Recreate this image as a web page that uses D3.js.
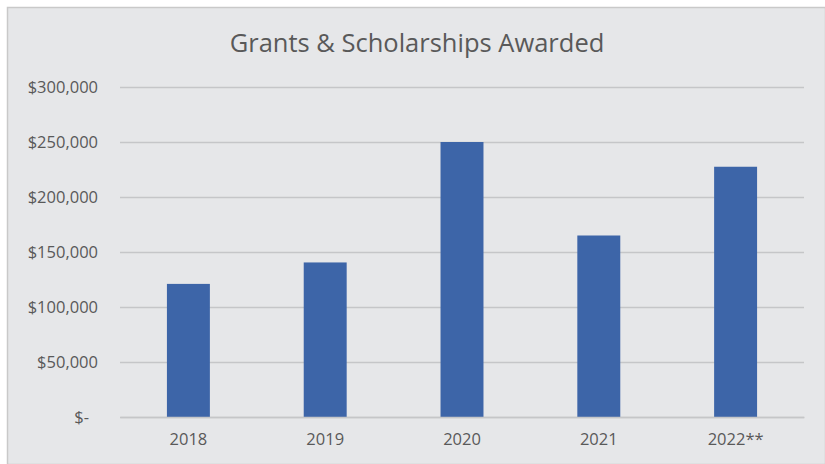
<!DOCTYPE html>
<html><head><meta charset="utf-8">
<script src="https://cdn.jsdelivr.net/npm/d3@7"></script>
<style>
html,body{margin:0;padding:0;background:#fff;}
svg{display:block;font-family:"Open Sans","Noto Sans",sans-serif;}
</style></head>
<body>
<svg id="chart" width="825" height="464"></svg>
<script>
const categories = ["2018","2019","2020","2021","2022**"];
const values = [121000, 140500, 250000, 165000, 227500];
const yTicks = [0, 50000, 100000, 150000, 200000, 250000, 300000];
const title = "Grants & Scholarships Awarded";

const FONT = '"Open Sans","Noto Sans",sans-serif';
const svg = d3.select("#chart");
const W = 825, H = 464;
svg.append("rect").attr("x",7.5).attr("y",7.5).attr("width",W-7).attr("height",H-7)
  .attr("fill","#e6e7e9").attr("stroke","#c9c9c9").attr("stroke-width",1.5);

const margin = {left:120, right:21, top:87, bottom:47};
const x = d3.scaleBand().domain(categories).range([margin.left, W-margin.right]).paddingInner(0.686).paddingOuter(0.343);
const y = d3.scaleLinear().domain([0,300000]).range([H-margin.bottom, margin.top]);

const fmt = v => v===0 ? "$-" : "$" + d3.format(",")(v);

const yAxis = svg.append("g").attr("transform",`translate(${margin.left},0)`)
  .call(d3.axisLeft(y).tickValues(yTicks).tickFormat(fmt).tickSize(-(W-margin.right-margin.left)).tickPadding(22));
yAxis.attr("font-family",FONT);
yAxis.select(".domain").remove();
yAxis.selectAll(".tick line").attr("stroke","#c5c6c8").attr("stroke-width",1.5);
yAxis.selectAll(".tick text").attr("fill","#595959").style("font-size","16.5px");
yAxis.selectAll(".tick").filter(d => d === 0).select("text").attr("dx","-9");

svg.append("g").selectAll("rect").data(values).join("rect")
  .attr("x",(d,i)=>x(categories[i]))
  .attr("y",d=>y(d))
  .attr("width",x.bandwidth())
  .attr("height",d=>y(0)-y(d))
  .attr("fill","#3d65a8");

const xAxis = svg.append("g").attr("transform",`translate(0,${y(0)})`)
  .call(d3.axisBottom(x).tickSize(0).tickPadding(16));
xAxis.attr("font-family",FONT);
xAxis.select(".domain").attr("stroke","#c5c6c8").attr("stroke-width",1.5);
xAxis.selectAll(".tick text").attr("fill","#595959").style("font-size","16.5px");

svg.append("text").attr("x",417).attr("y",52).attr("text-anchor","middle")
  .attr("fill","#595959").style("font-size","25.5px").text(title);
</script>
</body></html>
